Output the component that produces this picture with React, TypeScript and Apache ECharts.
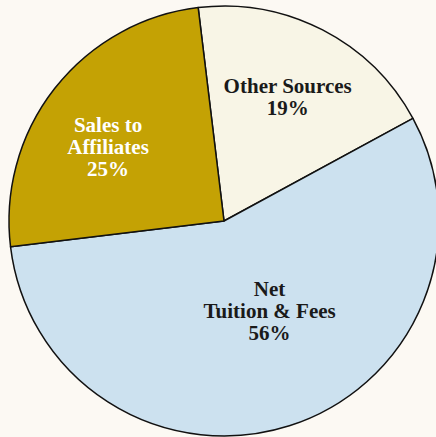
import React, { useEffect, useRef } from "react";
import * as echarts from "echarts";

const categories = ["Other Sources", "Net\nTuition & Fees", "Sales to\nAffiliates"];
const values = [19, 56, 25];
const sliceColors = ["#f8f5e6", "#cce1ef", "#c4a204"];
const labelColors = ["#1a1a1a", "#1a1a1a", "#ffffff"];
const labelShift: [number, number][] = [[13, -26], [12, -15], [-29, -6]];

export default function App() {
  const ref = useRef<HTMLDivElement>(null);
  useEffect(() => {
    document.body.style.margin = "0";
    document.body.style.background = "#fcf9f3";
    const chart = echarts.init(ref.current!, undefined, { renderer: "svg" });
    chart.setOption({
      animation: false,
      backgroundColor: "#fcf9f3",
      series: [
        {
          type: "pie",
          center: [224, 221],
          radius: 215,
          startAngle: 96.9,
          clockwise: true,
          silent: true,
          data: categories.map((name, i) => ({
            name,
            value: values[i],
            itemStyle: { color: sliceColors[i] },
            label: { color: labelColors[i] },
          })),
          itemStyle: { borderColor: "#111111", borderWidth: 1.5 },
          label: {
            show: true,
            position: "inside",
            formatter: "{b}\n{c}%",
            fontFamily: "'Liberation Serif', 'DejaVu Serif', serif",
            fontWeight: "bold",
            fontSize: 21,
            lineHeight: 22,
            align: "center",
          },
          labelLayout: (p: any) => ({ dx: labelShift[p.dataIndex][0], dy: labelShift[p.dataIndex][1] }),
          labelLine: { show: false },
          emphasis: { disabled: true },
        },
      ],
    });
    return () => chart.dispose();
  }, []);
  return <div ref={ref} style={{ position: "absolute", left: 0, top: 0, width: 436, height: 437 }} />;
}
